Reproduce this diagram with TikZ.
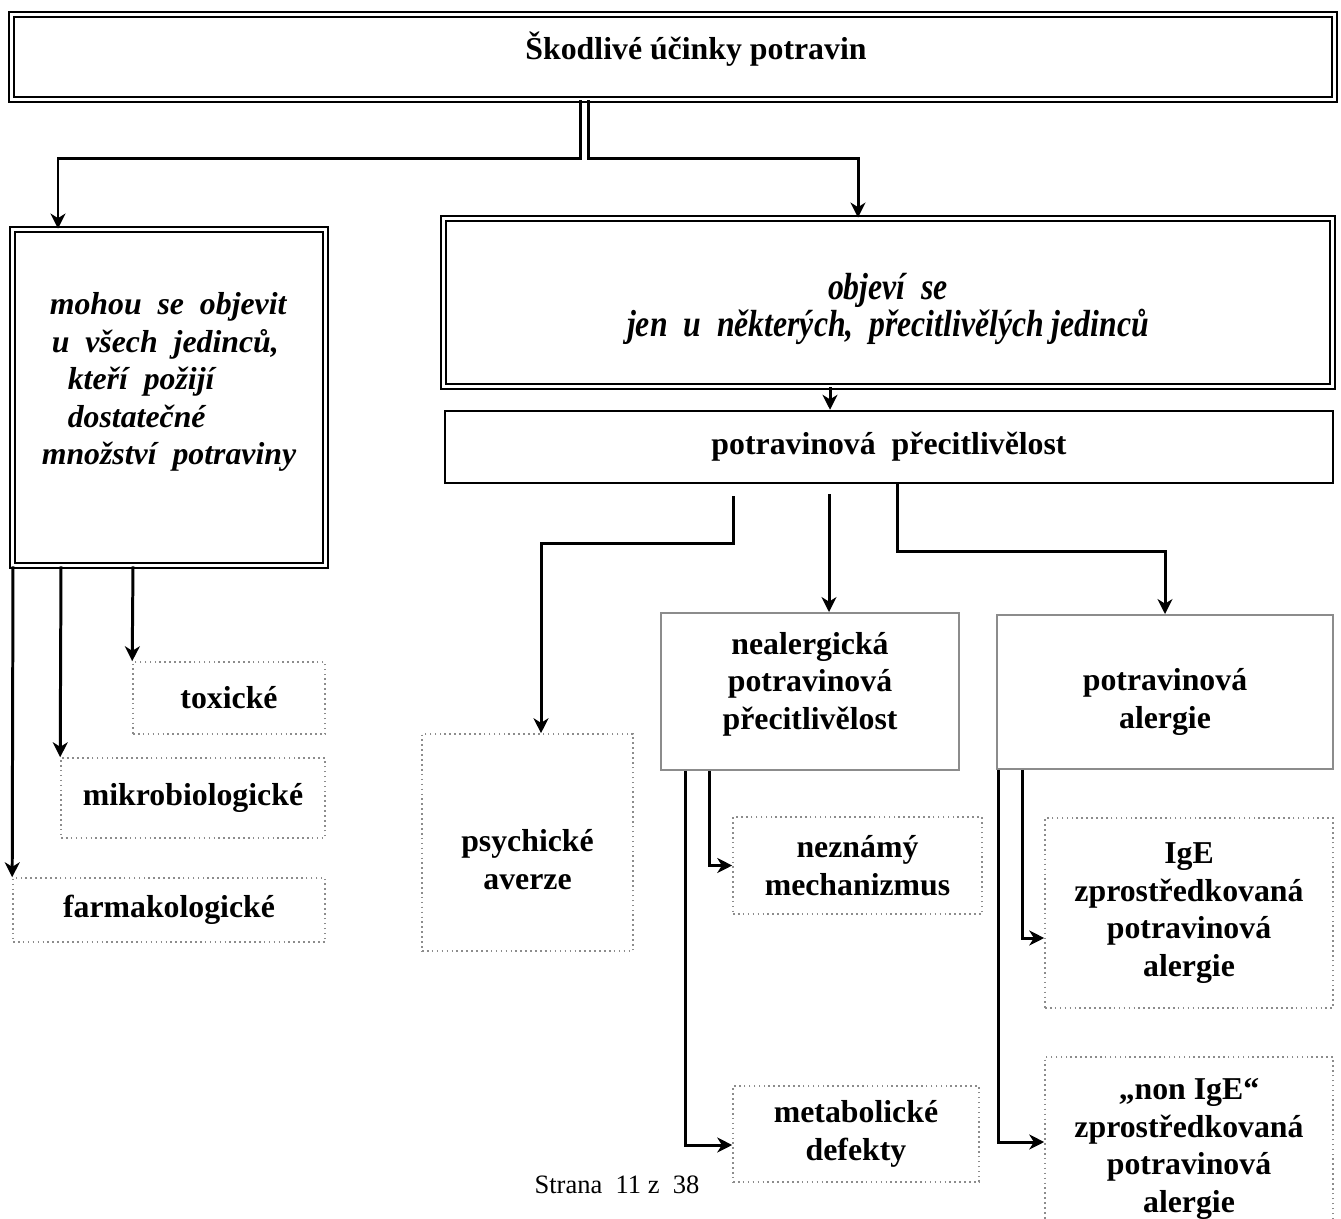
\documentclass[tikz,border=0pt]{standalone}
\usepackage{fontspec}
\setmainfont{Liberation Serif}
\newfontfamily\condfont{Liberation Serif}[FakeStretch=0.84]
\usetikzlibrary{arrows.meta}
\newdimen\px \px=0.02cm
\tikzset{
	txt/.style={font=\bfseries\fontsize{18.1pt}{21.3pt}\selectfont, align=center, inner sep=0pt},
	dblbox/.style={txt, draw, line width=1.1pt, double, double distance=1.4pt},
	precbox/.style={txt, draw, line width=1.4pt},
	graybox/.style={txt, draw=black!45, line width=1.1pt},
	dotbox/.style={txt, draw=black!45, line width=0.9pt, dash pattern=on 0.9pt off 1.9pt},
	conn/.style={line width=1.7pt, -{Stealth[length=8.5pt, width=8.5pt, inset=2.6pt]}}
}
\begin{document}
\begin{tikzpicture}[x=0.02cm, y=-0.02cm]
	\useasboundingbox (0,0) rectangle (1341,1219);
	% boxes
	\node[dblbox, minimum width=1323\px, minimum height=85\px] (title) at (673,57) {\hspace*{46\px}Škodlivé účinky potravin\\[-15\px]~};
	\node[dblbox, minimum width=313\px, minimum height=336\px, align=left, font=\bfseries\itshape\fontsize{18.1pt}{21.3pt}\selectfont] (vsichni) at (169,397.5)
		{\hspace*{8\px}mohou\ \ se\ \ objevit\\ \hspace*{10\px}u\ \ všech\ \ jedinců,\\ \hspace*{26\px}kteří\ \ požijí\\ \hspace*{26\px}dostatečné\\ množství\ \ potraviny\\ ~};
	\node[dblbox, minimum width=889\px, minimum height=168\px, font=\condfont\bfseries\itshape\fontsize{21.5pt}{21pt}\selectfont] (nekteri) at (888,302.5)
		{~\\[3\px]objeví\ \ se\\ jen\ \ u\ \ některých,\ \ přecitlivělých jedinců};
	\node[precbox, minimum width=888\px, minimum height=72\px] (prec) at (889,447) {potravinová\ \ přecitlivělost};
	\node[dotbox, minimum width=192\px, minimum height=72\px] (toxic) at (229,698) {toxické};
	\node[dotbox, minimum width=264\px, minimum height=80\px] (mikro) at (193,798) {mikrobiologické};
	\node[dotbox, minimum width=312\px, minimum height=64\px] (farma) at (169,910) {farmakologické};
	\node[dotbox, minimum width=211\px, minimum height=217\px] (psych) at (527.5,842.5) {~\\[19\px]psychické\\averze};
	\node[graybox, minimum width=298\px, minimum height=157\px] (neal) at (810,691.5) {nealergická\\potravinová\\přecitlivělost\\[-16\px]~};
	\node[graybox, minimum width=336\px, minimum height=154\px] (alerg) at (1165,692) {~\\[5\px]potravinová\\alergie};
	\node[dotbox, minimum width=249\px, minimum height=97\px] (nezn) at (857.5,865.5) {neznámý\\mechanizmus};
	\node[dotbox, minimum width=246\px, minimum height=96\px] (metab) at (856,1134) {metabolické\\defekty};
	\node[dotbox, minimum width=288\px, minimum height=190\px] (ige) at (1189,913) {IgE\\zprostředkovaná\\potravinová\\alergie};
	\node[dotbox, minimum width=288\px, minimum height=184\px] (nonige) at (1189,1149) {„non IgE“\\zprostředkovaná\\potravinová\\alergie};
	\node[font=\fontsize{15.1pt}{18pt}\selectfont, inner sep=0pt] (strana) at (617,1185) {Strana\ \ 11 z\ \ 38};
	% connectors
	\draw[conn] (title.south -| 580,0) -- ++(0,58) -| (vsichni.north -| 58,0);
	\draw[conn] (title.south -| 588,0) -- ++(0,58) -| (nekteri.north -| 858,0);
	\draw[conn] (nekteri.south -| 830,0) -- (prec.north -| 830,0);
	\draw[conn, shorten <=12\px] (prec.south -| 733,0) -- ++(0,59) -| (psych.north -| 541,0);
	\draw[conn, shorten <=10\px] (prec.south -| 829,0) -- (neal.north -| 829,0);
	\draw[conn] (prec.south -| 897,0) -- ++(0,67) -| (alerg.north);
	\draw[conn] (vsichni.south -| 133,0) -- (toxic.north west);
	\draw[conn] (vsichni.south -| 61,0) -- (mikro.north west);
	\draw[conn] (vsichni.south -| 13,0) -- (farma.north west);
	\draw[conn] (neal.south -| 709,0) |- (nezn.west);
	\draw[conn] (neal.south -| 685,0) |- ([yshift=-11\px]metab.west);
	\draw[conn] (alerg.south -| 1022,0) |- ([yshift=-25\px]ige.west);
	\draw[conn] (alerg.south -| 998,0) |- ([yshift=7\px]nonige.west);
\end{tikzpicture}
\end{document}
